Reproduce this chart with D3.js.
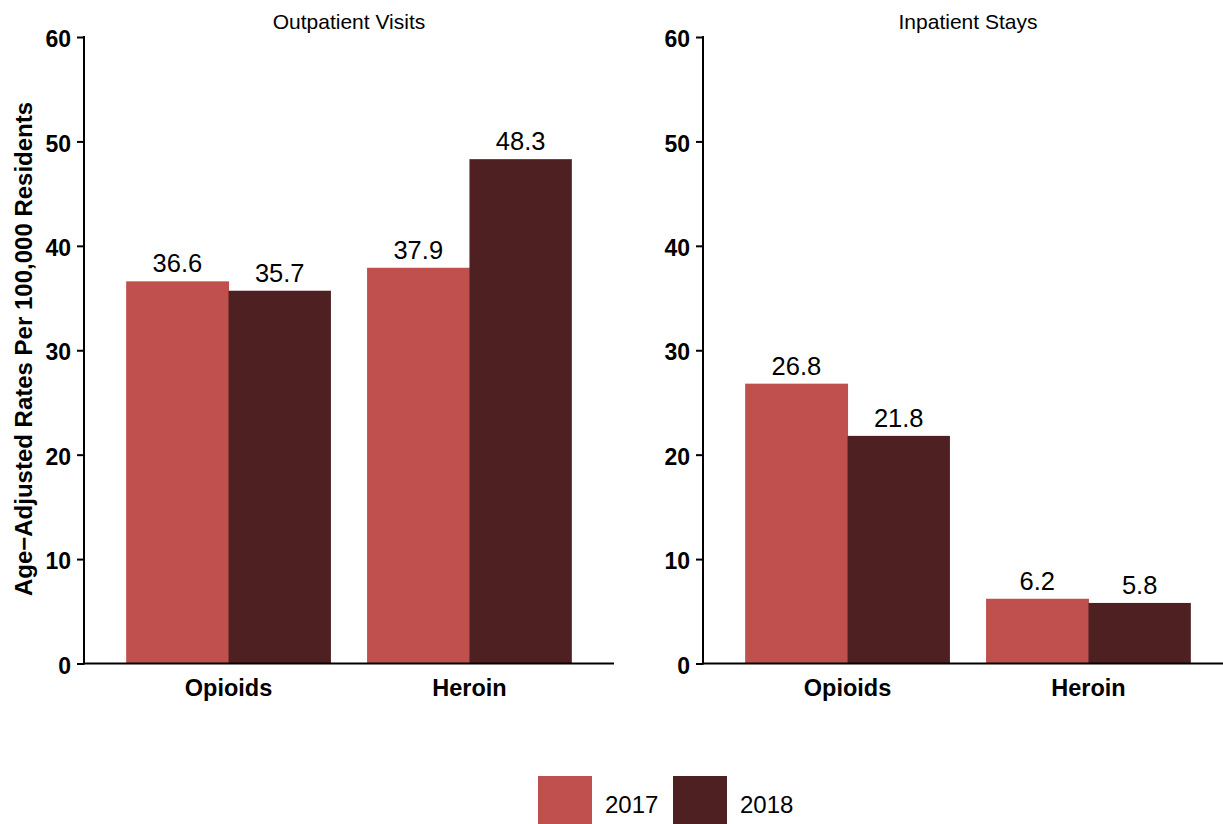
<!DOCTYPE html>
<html><head><meta charset="utf-8">
<script src="https://cdn.jsdelivr.net/npm/d3@7"></script>
<style>body{margin:0;background:#fff}svg{display:block;font-family:"Liberation Sans",Arial,sans-serif}</style>
</head><body><svg id="c" width="1223" height="824"></svg>
<script>
const panels = ["Outpatient Visits", "Inpatient Stays"];
const categories = ["Opioids", "Heroin"];
const years = ["2017", "2018"];
const outpatient2017 = [36.6, 37.9];
const outpatient2018 = [35.7, 48.3];
const inpatient2017 = [26.8, 6.2];
const inpatient2018 = [21.8, 5.8];
const yTicks = [0, 10, 20, 30, 40, 50, 60];
const colors = ["#C0504D", "#4F2022"];
const yTitle = "Age\u2212Adjusted Rates Per 100,000 Residents";

const data = [
  [outpatient2017, outpatient2018],
  [inpatient2017, inpatient2018]
];

const svg = d3.select("#c");
const y = d3.scaleLinear().domain([0, 60]).range([663.5, 37]);
const panelRanges = [[84, 614], [703, 1233]];

panels.forEach((title, pi) => {
  const [x0, x1] = panelRanges[pi];
  const x = d3.scalePoint().domain(categories).range([x0, x1]).padding(0.6);
  const groupW = x.step() * 0.85;
  const xs = d3.scaleBand().domain(years).range([-groupW / 2, groupW / 2]).padding(0);
  const g = svg.append("g");

  years.forEach((yr, yi) => {
    categories.forEach((cat, ci) => {
      const v = data[pi][yi][ci];
      g.append("rect")
        .attr("x", x(cat) + xs(yr))
        .attr("y", y(v))
        .attr("width", xs.bandwidth() + (yi === 0 ? 0.5 : 0))
        .attr("height", y(0) - y(v))
        .attr("fill", colors[yi]);
      g.append("text")
        .attr("x", x(cat) + xs(yr) + xs.bandwidth() / 2)
        .attr("y", y(v) - 9)
        .attr("text-anchor", "middle")
        .attr("font-size", 25.5)
        .attr("fill", "#000")
        .text(v.toFixed(1));
    });
  });

  const ya = g.append("g").attr("transform", `translate(${x0},0)`)
    .call(d3.axisLeft(y).tickValues(yTicks).tickSize(7).tickPadding(6));
  ya.select(".domain").remove();
  ya.selectAll(".tick line").attr("stroke", "#000").attr("stroke-width", 2);
  ya.selectAll(".tick text").attr("font-size", 23).attr("font-weight", "bold")
    .attr("dy", "0.42em")
    .attr("font-family", "Liberation Sans, Arial, sans-serif").attr("fill", "#000");
  g.append("line").attr("x1", x0).attr("x2", x0).attr("y1", y(60) - 1).attr("y2", y(0) + 1)
    .attr("stroke", "#000").attr("stroke-width", 2);

  g.append("line").attr("x1", x0).attr("x2", x1).attr("y1", y(0)).attr("y2", y(0))
    .attr("stroke", "#000").attr("stroke-width", 2);
  categories.forEach(cat => {
    g.append("text").attr("x", x(cat)).attr("y", 696)
      .attr("text-anchor", "middle").attr("font-size", 23.5).attr("font-weight", "bold")
      .text(cat);
  });

  g.append("text").attr("x", (x0 + x1) / 2).attr("y", 29)
    .attr("text-anchor", "middle").attr("font-size", 21).text(title);
});

svg.append("text")
  .attr("transform", `translate(32,${349}) rotate(-90)`)
  .attr("text-anchor", "middle").attr("font-size", 24).attr("font-weight", "bold")
  .text(yTitle);

const legendX = [538, 673];
years.forEach((yr, i) => {
  svg.append("rect").attr("x", legendX[i]).attr("y", 776).attr("width", 54).attr("height", 48)
    .attr("fill", colors[i]);
  svg.append("text").attr("x", legendX[i] + 67).attr("y", 813).attr("font-size", 24).text(yr);
});
</script></body></html>
